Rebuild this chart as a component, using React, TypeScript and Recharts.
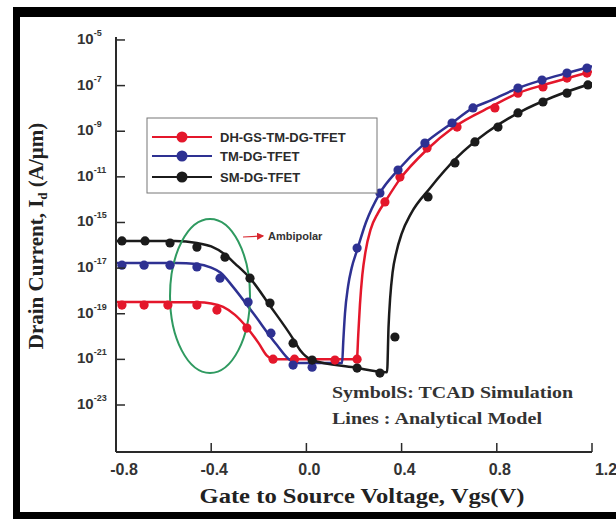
import React from 'react';
import { ComposedChart, Line, Scatter, XAxis, YAxis, ReferenceDot } from 'recharts';

// ---- axis ticks ----
const xTicks = [-0.8, -0.4, 0.0, 0.4, 0.8, 1.2];
const xTickLabels = ['-0.8', '-0.4', '0.0', '0.4', '0.8', '1.2'];
// evenly spaced plotted positions (log10 units) and the exponents printed next to them
const yTicks = [-5, -7, -9, -11, -13, -15, -17, -19, -21];
const yTickExponents = ['-5', '-7', '-9', '-11', '-15', '-17', '-19', '-21', '-23'];

// ---- series names / colours ----
const seriesNames = ['DH-GS-TM-DG-TFET', 'TM-DG-TFET', 'SM-DG-TFET'];
const seriesColors = ['#e4172b', '#2e3192', '#1b1b1b'];

// ---- Analytical model (lines): Vgs and log10(Id) ----
const redLineX = [-0.8, -0.6, -0.46, -0.4, -0.35, -0.3, -0.25, -0.2, -0.165, -0.14, 0.0, 0.212, 0.218, 0.225, 0.235, 0.248, 0.27, 0.3, 0.33, 0.393, 0.507, 0.616, 0.784, 0.897, 0.994, 1.095, 1.2];
const redLineY = [-16.49, -16.49, -16.5, -16.55, -16.7, -17.05, -17.6, -18.3, -18.85, -18.99, -18.99, -18.99, -17.9, -16.6, -15.3, -14.3, -13.3, -12.6, -12.1, -11.1, -9.8, -8.85, -7.88, -7.3, -6.98, -6.68, -6.38];

const blueLineX = [-0.8, -0.55, -0.46, -0.4, -0.36, -0.31, -0.224, -0.124, -0.069, -0.04, 0.15, 0.155, 0.162, 0.175, 0.19, 0.213, 0.25, 0.309, 0.385, 0.498, 0.612, 0.7, 0.78, 0.889, 0.99, 1.095, 1.2];
const blueLineY = [-14.78, -14.78, -14.82, -14.98, -15.2, -15.8, -16.97, -18.37, -19.03, -19.16, -19.16, -18.2, -17.0, -15.8, -15.0, -14.21, -13.0, -11.71, -10.7, -9.52, -8.64, -7.98, -7.63, -7.11, -6.76, -6.45, -6.15];

const blackLineX = [-0.8, -0.55, -0.46, -0.4, -0.342, -0.3, -0.237, -0.153, -0.056, -0.027, 0.024, 0.2, 0.339, 0.345, 0.352, 0.362, 0.378, 0.4, 0.44, 0.519, 0.633, 0.759, 0.897, 1.036, 1.2];
const blackLineY = [-13.81, -13.81, -13.9, -14.05, -14.4, -14.8, -15.44, -16.65, -18.1, -18.59, -19.03, -19.35, -19.56, -17.6, -16.3, -15.2, -14.3, -13.5, -12.6, -11.5, -10.15, -9.05, -8.16, -7.5, -6.9];

// ---- TCAD simulation (symbols) ----
const redSymX = [-0.775, -0.682, -0.582, -0.46, -0.376, -0.25, -0.14, -0.05, 0.12, 0.213, 0.33, 0.393, 0.507, 0.633, 0.792, 0.889, 0.994, 1.095, 1.179];
const redSymY = [-16.62, -16.62, -16.62, -16.62, -16.84, -17.63, -18.99, -18.99, -19.03, -18.99, -12.1, -11.01, -9.74, -8.82, -7.98, -7.33, -7.06, -6.67, -6.45];

const blueSymX = [-0.775, -0.682, -0.573, -0.46, -0.363, -0.245, -0.149, -0.056, 0.024, 0.213, 0.309, 0.385, 0.498, 0.612, 0.7, 0.889, 0.99, 1.095, 1.179];
const blueSymY = [-14.87, -14.87, -14.87, -14.95, -15.44, -16.49, -17.85, -19.25, -19.34, -14.12, -11.71, -10.7, -9.52, -8.64, -7.98, -7.11, -6.76, -6.45, -6.23];

const blackSymX = [-0.775, -0.678, -0.573, -0.46, -0.342, -0.237, -0.153, -0.056, 0.024, 0.213, 0.309, 0.372, 0.511, 0.624, 0.708, 0.805, 0.889, 0.994, 1.095, 1.183];
const blackSymY = [-13.81, -13.81, -13.9, -14.08, -14.52, -15.44, -16.53, -18.29, -19.03, -19.38, -19.6, -18.02, -11.88, -10.39, -9.47, -8.82, -8.2, -7.72, -7.33, -6.97];

// ambipolar region marker (centre, in data units)
const ambipolarX = -0.405;
const ambipolarY = -16.22;

const pts = (xs: number[], ys: number[]) => xs.map((x, i) => ({ x, y: ys[i] }));

const lineSets = [pts(redLineX, redLineY), pts(blueLineX, blueLineY), pts(blackLineX, blackLineY)];
const symSets = [pts(redSymX, redSymY), pts(blueSymX, blueSymY), pts(blackSymX, blackSymY)];

const AX = '#2a2a2a';
const SANS = '"Liberation Sans", Arial, sans-serif';
const SERIF = '"Liberation Serif", "Times New Roman", serif';

const BottomTick = (props: any) => {
  const { x, y, payload } = props;
  const i = xTicks.indexOf(payload.value);
  const dx = i === 0 ? 8 : i === xTicks.length - 1 ? 14 : 3;
  return (
    <g>
      <line x1={x} y1={y} x2={x} y2={y - 9} stroke={AX} strokeWidth={1.5} />
      <text x={x + dx} y={y + 23} textAnchor="middle" fontFamily={SANS} fontWeight="bold" fontSize={16} fill="#333">
        {xTickLabels[i]}
      </text>
    </g>
  );
};

const TopTick = (props: any) => {
  const { x, y } = props;
  return <line x1={x} y1={y} x2={x} y2={y + 9} stroke={AX} strokeWidth={1.5} />;
};

const LeftTick = (props: any) => {
  const { x, y, payload } = props;
  const i = yTicks.indexOf(payload.value);
  return (
    <g>
      <line x1={x} y1={y} x2={x + 9} y2={y} stroke={AX} strokeWidth={1.5} />
      <text x={x - 39} y={y + 4} fontFamily={SANS} fontWeight="bold" fontSize={15} fill="#333">
        10
        <tspan dy={-8} fontSize={9}>{yTickExponents[i]}</tspan>
      </text>
    </g>
  );
};

const RightTick = (props: any) => {
  const { x, y } = props;
  return <line x1={x} y1={y} x2={x - 9} y2={y} stroke={AX} strokeWidth={1.5} />;
};

const Dot = (color: string) => (p: any) => <circle cx={p.cx} cy={p.cy} r={4.6} fill={color} />;

const EllipseShape = (p: any) => (
  <ellipse cx={p.cx} cy={p.cy} rx={40} ry={77} fill="none" stroke="#2f9a60" strokeWidth={2} />
);

export default function App() {
  return (
    <div style={{ position: 'absolute', left: 0, top: 0, width: 616, height: 519, background: '#fff', overflow: 'hidden' }}>
      <ComposedChart width={616} height={519} margin={{ top: 37, right: 24, bottom: 27, left: 0 }}>
        <XAxis xAxisId="b" dataKey="x" type="number" domain={[-0.8, 1.2]} ticks={xTicks} orientation="bottom"
          height={40} tickSize={0} tickMargin={0} tick={<BottomTick />} axisLine={{ stroke: AX, strokeWidth: 2 }}
          allowDataOverflow interval={0} />
        <XAxis xAxisId="t" dataKey="x" type="number" domain={[-0.8, 1.2]} ticks={xTicks} orientation="top"
          height={0} tickSize={0} tickMargin={0} tick={<TopTick />} axisLine={{ stroke: AX, strokeWidth: 2 }}
          allowDataOverflow interval={0} />
        <YAxis yAxisId="l" type="number" domain={[-23.06, -4.87]} ticks={yTicks} orientation="left"
          width={116} tickSize={0} tickMargin={0} tick={<LeftTick />} axisLine={{ stroke: AX, strokeWidth: 2 }}
          allowDataOverflow interval={0} />
        <YAxis yAxisId="r" type="number" domain={[-23.06, -4.87]} ticks={yTicks} orientation="right"
          width={0} tickSize={0} tickMargin={0} tick={<RightTick />} axisLine={{ stroke: AX, strokeWidth: 2 }}
          allowDataOverflow interval={0} />

        <ReferenceDot xAxisId="b" yAxisId="l" x={ambipolarX} y={ambipolarY} shape={EllipseShape} />

        {lineSets.map((d, i) => (
          <Line key={'l' + i} xAxisId="b" yAxisId="l" data={d} dataKey="y" type="monotone" stroke={seriesColors[i]}
            strokeWidth={2.5} dot={false} activeDot={false} isAnimationActive={false} name={seriesNames[i]} />
        ))}
        {symSets.map((d, i) => (
          <Scatter key={'s' + i} xAxisId="b" yAxisId="l" data={d} dataKey="y" fill={seriesColors[i]}
            shape={Dot(seriesColors[i])} isAnimationActive={false} name={seriesNames[i]} />
        ))}
      </ComposedChart>

      <svg width={616} height={519} style={{ position: 'absolute', left: 0, top: 0, pointerEvents: 'none' }}>
        {/* legend */}
        <rect x={147} y={118} width={230} height={75} fill="#fff" stroke="#777" strokeWidth={1} />
        {seriesNames.map((n, i) => {
          const yy = [137, 156, 177][i];
          return (
            <g key={n}>
              <line x1={152} y1={yy} x2={212} y2={yy} stroke={seriesColors[i]} strokeWidth={2} />
              <circle cx={182} cy={yy} r={5.5} fill={seriesColors[i]} />
              <text x={220} y={yy + 5} fontFamily={SANS} fontWeight="bold" fontSize={13} fill="#2b2b2b">{n}</text>
            </g>
          );
        })}

        {/* ambipolar annotation */}
        <defs>
          <marker id="arr" markerWidth="6" markerHeight="6" refX="5" refY="3" orient="auto">
            <path d="M0,0 L6,3 L0,6 z" fill="#d8262e" />
          </marker>
        </defs>
        <line x1={243} y1={237} x2={263} y2={236} stroke="#d8262e" strokeWidth={1.2} markerEnd="url(#arr)" />
        <text x={268} y={240} fontFamily={SANS} fontWeight="bold" fontSize={11} fill="#333">Ambipolar</text>

        {/* notes */}
        <text x={332} y={398} fontFamily={SERIF} fontWeight="bold" fontSize={17} fill="#333" textLength={241} lengthAdjust="spacingAndGlyphs">SymbolS: TCAD Simulation</text>
        <text x={332} y={424} fontFamily={SERIF} fontWeight="bold" fontSize={17} fill="#333" textLength={210} lengthAdjust="spacingAndGlyphs">Lines : Analytical Model</text>

        {/* axis titles */}
        <text x={362} y={503} textAnchor="middle" fontFamily={SERIF} fontWeight="bold" fontSize={22} fill="#222" textLength={325} lengthAdjust="spacingAndGlyphs">Gate to Source Voltage, Vgs(V)</text>
        <text transform="translate(43,236) rotate(-90)" textAnchor="middle" fontFamily={SERIF} fontWeight="bold" fontSize={21} fill="#222">
          Drain Current, I<tspan dy={4} fontSize={13}>d</tspan><tspan dy={-4} fontSize={21}> (A/μm)</tspan>
        </text>
      </svg>

      {/* outer black frame */}
      <div style={{ position: 'absolute', left: 13, top: 7, width: 610, height: 512, boxSizing: 'border-box', borderLeft: '7px solid #000', borderTop: '10px solid #000', borderBottom: '7px solid #000' }} />
    </div>
  );
}
